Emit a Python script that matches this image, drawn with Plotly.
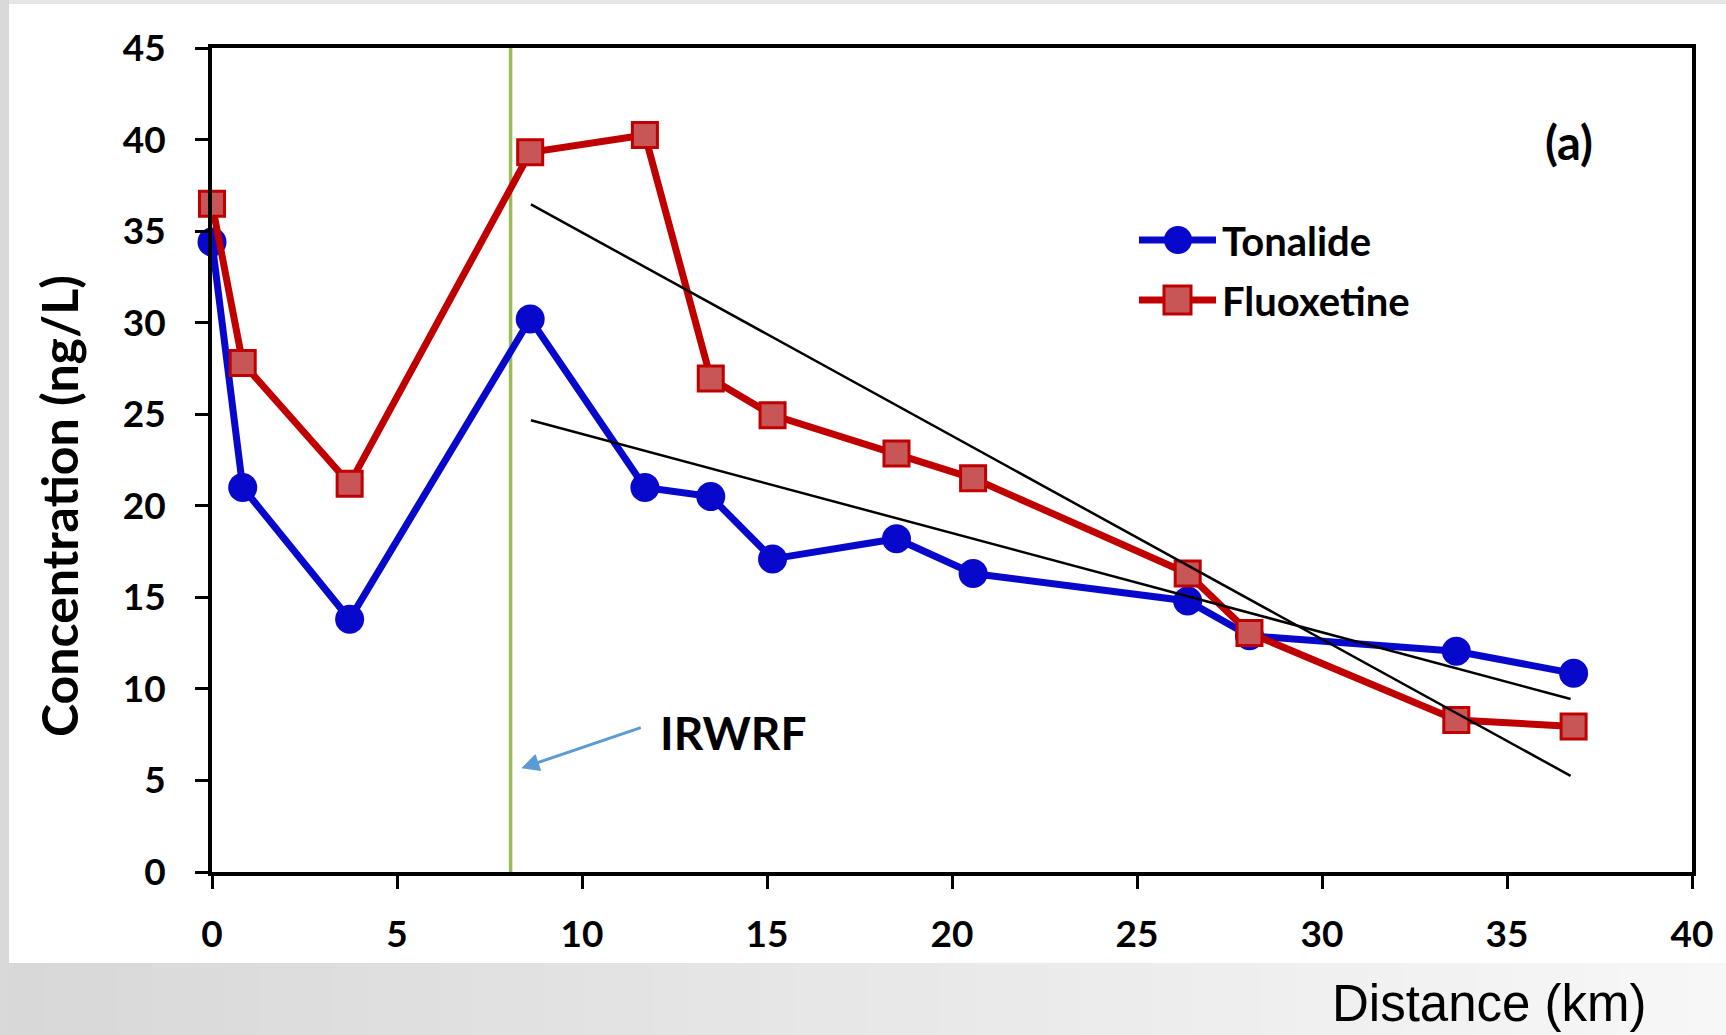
import plotly.graph_objects as go

# Sampling stations (km downstream) and measured concentrations (ng/L)
distance_km = [0.0, 0.83, 3.72, 8.6, 11.7, 13.48, 15.15, 18.5, 20.57, 26.37, 28.04, 33.63, 36.8]
tonalide = [34.4, 21.0, 13.8, 30.2, 21.0, 20.5, 17.1, 18.2, 16.3, 14.8, 12.9, 12.05, 10.85]
fluoxetine = [36.5, 27.8, 21.2, 39.3, 40.25, 26.95, 24.95, 22.85, 21.5, 16.3, 13.05, 8.3, 7.95]

# Linear trends downstream of the reclamation facility
trend_km = [8.62, 36.72]
tonalide_trend = [24.67, 9.45]
fluoxetine_trend = [36.46, 5.25]

irwrf_km = 8.07
x_ticks = [0, 5, 10, 15, 20, 25, 30, 35, 40]
y_ticks = [0, 5, 10, 15, 20, 25, 30, 35, 40, 45]

BLUE = "#0808cc"
RED = "#c00000"
RED_FILL = "#c85656"
LATO = dict(family="Lato, Open Sans, sans-serif", color="black", weight="bold")

# pixel -> paper helpers for the page decorations
PL, PR, PT, PB = 212, 1692, 48, 872
def px(x):
    return (x - PL) / (PR - PL)
def py(y):
    return (PB - y) / (PB - PT)

fig = go.Figure()

fig.add_trace(go.Scatter(
    x=distance_km, y=tonalide, mode="lines+markers", name="Tonalide",
    line=dict(color=BLUE, width=7), cliponaxis=False,
    marker=dict(symbol="circle", size=29, color=BLUE, line=dict(width=0)),
))
fig.add_trace(go.Scatter(
    x=distance_km, y=fluoxetine, mode="lines+markers", name="Fluoxetine",
    line=dict(color=RED, width=7), cliponaxis=False,
    marker=dict(symbol="square", size=25, color=RED_FILL, line=dict(width=3, color=RED)),
))
for trend in (fluoxetine_trend, tonalide_trend):
    fig.add_trace(go.Scatter(
        x=trend_km, y=trend, mode="lines", showlegend=False,
        line=dict(color="black", width=2.5),
    ))

shapes = []
# light grey page with a white panel and a soft grey band at the bottom
shapes.append(dict(type="rect", xref="paper", yref="paper", layer="below",
                   x0=px(0), x1=px(9), y0=py(1035), y1=py(0),
                   fillcolor="#d9d9d9", line=dict(width=0)))
shapes.append(dict(type="rect", xref="paper", yref="paper", layer="below",
                   x0=px(9), x1=px(1726), y0=py(963), y1=py(4),
                   fillcolor="white", line=dict(width=0)))
n_bands = 48
for i in range(n_bands):
    t = i / (n_bands - 1)
    g = int(round(216 + (247 - 216) * t))
    shapes.append(dict(type="rect", xref="paper", yref="paper", layer="below",
                       x0=px(9 + i * (1726 - 9) / n_bands),
                       x1=px(9 + (i + 1) * (1726 - 9) / n_bands + 1),
                       y0=py(1035), y1=py(963),
                       fillcolor=f"rgb({g},{g},{g})", line=dict(width=0)))
# IRWRF location
shapes.append(dict(type="line", xref="x", yref="y", layer="below",
                   x0=irwrf_km, x1=irwrf_km, y0=0, y1=45,
                   line=dict(color="#9bbb59", width=3.5)))

# legend key
legend_rows = [("Tonalide", BLUE, 240, "circle"), ("Fluoxetine", RED, 300, "square")]
annotations = []
for label, col, yc, sym in legend_rows:
    shapes.append(dict(type="line", xref="paper", yref="paper",
                       x0=px(1139), x1=px(1216), y0=py(yc), y1=py(yc),
                       line=dict(color=col, width=7)))
    if sym == "circle":
        shapes.append(dict(type="circle", xref="paper", yref="paper",
                           x0=px(1164), x1=px(1192), y0=py(yc + 14), y1=py(yc - 14),
                           fillcolor=BLUE, line=dict(width=0)))
    else:
        shapes.append(dict(type="rect", xref="paper", yref="paper",
                           x0=px(1164), x1=px(1191), y0=py(yc + 14), y1=py(yc - 14),
                           fillcolor=RED_FILL, line=dict(color=RED, width=3)))
    annotations.append(dict(xref="paper", yref="paper", x=px(1220), y=py(yc + 1),
                            xanchor="left", yanchor="middle", showarrow=False,
                            text=label, font=dict(LATO, size=40)))

annotations += [
    dict(xref="x", yref="y", x=36.67, y=39.84, text="(a)", showarrow=False,
         xanchor="center", yanchor="middle", font=dict(LATO, size=47)),
    dict(xref="x", yref="y", x=12.05, y=7.62, text="IRWRF", showarrow=False,
         xanchor="left", yanchor="middle", font=dict(LATO, size=46)),
    dict(xref="x", yref="y", axref="x", ayref="y", x=8.36, y=5.67, ax=11.63, ay=7.91,
         text="", showarrow=True, arrowhead=2, arrowsize=1.2, arrowwidth=3,
         arrowcolor="#5b9bd5", standoff=0, startstandoff=0),
    dict(xref="paper", yref="paper", x=px(59), y=py(506), text="Concentration (ng/L)",
         textangle=-90, showarrow=False, xanchor="center", yanchor="middle",
         font=dict(LATO, size=50)),
    dict(xref="paper", yref="paper", x=px(1489), y=py(1004), text="Distance (km)",
         showarrow=False, xanchor="center", yanchor="middle",
         font=dict(family="Liberation Sans, Arial, sans-serif", size=51, color="black")),
]

axis_common = dict(
    showline=True, linecolor="black", linewidth=4, mirror=True,
    ticks="outside", ticklen=13, tickwidth=2.5, tickcolor="black",
    showgrid=False, zeroline=False, tickfont=dict(LATO, size=37),
)

fig.update_layout(
    width=1726, height=1035,
    margin=dict(l=PL, r=1726 - PR, t=PT, b=1035 - PB, pad=0),
    paper_bgcolor="#e6e6e6", plot_bgcolor="white",
    showlegend=False,
    shapes=shapes, annotations=annotations,
    xaxis=dict(axis_common, range=[0, 40], tickvals=x_ticks, ticklabelstandoff=14),
    yaxis=dict(axis_common, range=[0, 45], tickvals=y_ticks, ticklabelstandoff=22),
)

fig.write_html("out.html")
